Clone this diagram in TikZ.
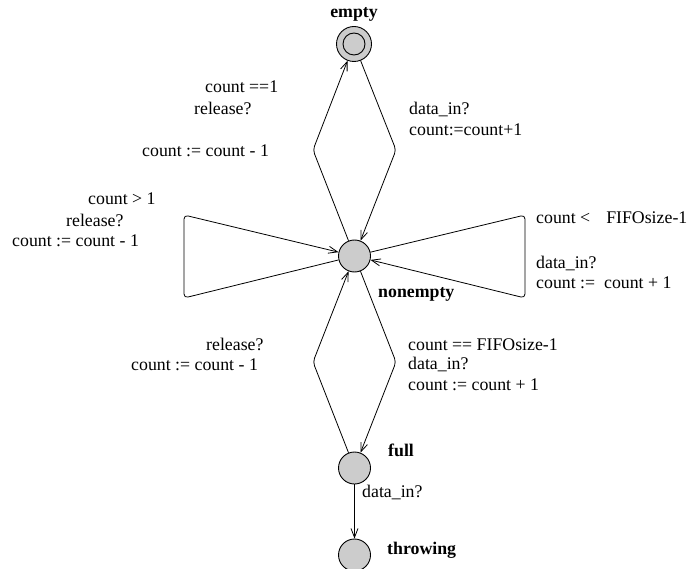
\documentclass[tikz,border=0pt]{standalone}
\usepackage{fontspec}
\setmainfont{Liberation Serif}
\usetikzlibrary{arrows.meta}
\definecolor{locgray}{RGB}{204,204,204}
\begin{document}
\begin{tikzpicture}[x=1pt,y=-1pt,
  loc/.style={circle,draw,fill=locgray,minimum size=32pt,inner sep=0pt,line width=0.9pt},
  trans/.style={draw,line width=0.8pt,rounded corners=4pt,-{Straight Barb[length=9pt,width=7pt,line width=0.8pt]}},
  lbl/.style={anchor=base west,inner sep=0pt,font=\fontsize{17.8}{20}\selectfont},
  locname/.style={anchor=base west,inner sep=0pt,font=\fontsize{17.8}{20}\selectfont\bfseries}]
\useasboundingbox (0,0) rectangle (690,569);

% locations
\node[loc,minimum size=35pt] (empty) at (354,44) {};
\node[loc,minimum size=22pt] (emptyinner) at (empty) {};
\node[loc] (nonempty) at (354.5,256) {};
\node[loc] (full) at (354.5,468) {};
\node[loc] (throwing) at (354.5,555) {};

% location names
\node[locname,anchor=base] (nEmpty) at (354,18) {empty};
\node[locname] (nNonempty) at (378,297) {nonempty};
\node[locname] (nFull) at (388,456) {full};
\node[locname] (nThrowing) at (387,554) {throwing};

% empty <-> nonempty
\coordinate (b1) at (313,150);
\coordinate (b2) at (396,150);
\draw[trans] (nonempty) -- (b1) -- (empty);
\draw[trans] (empty) -- (b2) -- (nonempty);

% self loops on nonempty
\coordinate (l1) at (184,298);
\coordinate (l2) at (184,215);
\draw[trans] (nonempty) -- (l1) -- (l2) -- (nonempty);
\coordinate (r1) at (525,215);
\coordinate (r2) at (525,298);
\draw[trans] (nonempty) -- (r1) -- (r2) -- (nonempty);

% nonempty <-> full
\coordinate (b3) at (313,362);
\coordinate (b4) at (396,362);
\draw[trans] (full) -- (b3) -- (nonempty);
\draw[trans] (nonempty) -- (b4) -- (full);

% full -> throwing
\draw[trans] (full) -- (throwing);

% transition labels
\node[lbl] (g1) at (205,93) {count ==1};
\node[lbl] (s1) at (194,115) {release?};
\node[lbl] (u1) at (142,157) {count := count - 1};

\node[lbl] (s2) at (409,115) {data\_in?};
\node[lbl] (u2) at (409,136) {count:=count+1};

\node[lbl] (g3) at (88,205) {count > 1};
\node[lbl] (s3) at (66,226) {release?};
\node[lbl] (u3) at (12,247) {count := count - 1};

\node[lbl] (g4) at (536,224) {count <\hspace{0.9em}FIFOsize-1};
\node[lbl] (s4) at (536,268) {data\_in?};
\node[lbl] (u4) at (536,288) {count :=\hspace{0.5em}count + 1};

\node[lbl] (s5) at (206,350) {release?};
\node[lbl] (u5) at (131,370) {count := count - 1};

\node[lbl] (g6) at (408,350) {count == FIFOsize-1};
\node[lbl] (s6) at (408,369) {data\_in?};
\node[lbl] (u6) at (408,390) {count := count + 1};

\node[lbl] (s7) at (362,497) {data\_in?};
\end{tikzpicture}
\end{document}
